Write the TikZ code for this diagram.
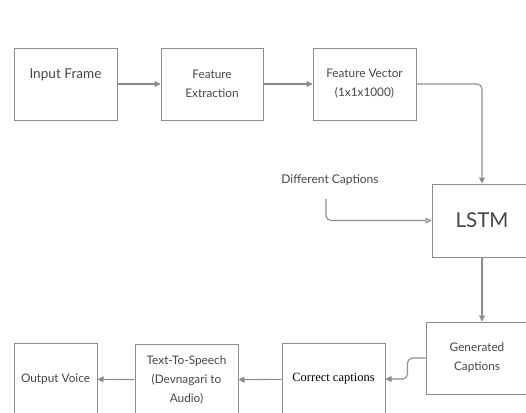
\documentclass[tikz,border=0pt]{standalone}
\usepackage{fontspec}
\setmainfont{Lato}
\newfontfamily\corrfont{Liberation Serif}
\usetikzlibrary{arrows.meta}
\definecolor{boxgray}{RGB}{140,140,140}
\definecolor{txtgray}{RGB}{70,70,70}
\begin{document}
\begin{tikzpicture}[x=1pt, y=-1pt,
    block/.style={draw=boxgray, line width=1pt, minimum width=103pt, minimum height=72pt,
        align=center, text=txtgray, font=\fontsize{11.8}{19}\selectfont, inner sep=2pt},
    link/.style={draw=boxgray, line width=1.1pt, rounded corners=5pt,
        -{Triangle[length=6pt, width=6pt]}},
    openlink/.style={draw=boxgray, line width=1.1pt, rounded corners=5pt,
        -{Triangle[open, length=6pt, width=6pt]}}]
    \useasboundingbox (0, 0) rectangle (526, 412);
    % top row
    \node[block, font=\fontsize{13.6}{16}\selectfont] (inframe) at (65.5, 84) {Input Frame\\[4pt]};
    \node[block, minimum width=102pt] (featext) at (212, 84) {Feature\\Extraction};
    \node[block] (featvec) at (364.5, 84) {Feature Vector\\(1x1x1000)};
    % right column
    \node[block, minimum width=100pt, minimum height=73pt, font=\fontsize{20.5}{24}\selectfont] (lstm) at (482, 220.5) {LSTM};
    \node[block, minimum width=102pt] (gencap) at (477, 358) {Generated\\Captions};
    \node[text=txtgray, font=\fontsize{12}{14}\selectfont] (dcap) at (330, 180) {Different Captions};
    \coordinate (dstart) at (326, 199);
    % bottom row
    \node[block, text=black, font=\fontsize{12.5}{15}\corrfont\selectfont] (corcap) at (333.5, 379) {Correct captions};
    \node[block] (tts) at (186.5, 380) {Text-To-Speech\\(Devnagari to\\Audio)};
    \node[block, minimum width=83pt] (outvoice) at (55.5, 379) {Output Voice};
    % connectors
    \draw[link] (inframe) -- (featext);
    \draw[link] (featext) -- (featvec);
    \draw[link] (featvec.east) -| (lstm.north);
    \draw[openlink] (dstart) |- (lstm.west);
    \draw[link] (lstm.south) -- (gencap.north -| lstm.south);
    \draw[link] (gencap.west) -- ++(-18, 0) |- (corcap.east);
    \draw[link] (corcap) -- (tts);
    \draw[link] (tts) -- (outvoice);
\end{tikzpicture}
\end{document}
